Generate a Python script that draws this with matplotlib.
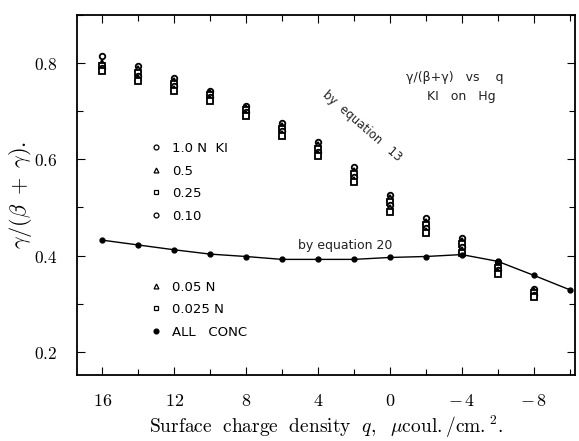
import numpy as np
import matplotlib
matplotlib.use('Agg')
import matplotlib.pyplot as plt
from matplotlib.lines import Line2D
from matplotlib.ticker import MultipleLocator, FuncFormatter

plt.rcParams['mathtext.fontset'] = 'cm'

# DATA
q = [16, 14, 12, 10, 8, 6, 4, 2, 0, -2, -4, -6, -8]
c_10 = [0.815, 0.793, 0.770, 0.742, 0.711, 0.676, 0.636, 0.583, 0.525, 0.477, 0.437, 0.386, 0.330]
c_05 = [0.800, 0.787, 0.763, 0.738, 0.706, 0.669, 0.629, 0.576, 0.519, 0.470, 0.430, 0.380, 0.326]
c_025 = [0.795, 0.780, 0.757, 0.733, 0.702, 0.663, 0.622, 0.570, 0.512, 0.463, 0.424, 0.375, 0.322]
c_010 = [0.790, 0.774, 0.752, 0.729, 0.698, 0.658, 0.616, 0.564, 0.505, 0.457, 0.418, 0.370, 0.318]
c_005 = [0.786, 0.768, 0.747, 0.725, 0.694, 0.653, 0.611, 0.558, 0.498, 0.451, 0.412, 0.365, 0.315]
c_0025 = [0.784, 0.763, 0.743, 0.721, 0.691, 0.649, 0.606, 0.553, 0.491, 0.446, 0.406, 0.361, 0.313]

q_eq20 = [16, 14, 12, 10, 8, 6, 4, 2, 0, -2, -4, -6, -8, -10]
y_eq20 = [0.432, 0.422, 0.412, 0.403, 0.398, 0.392, 0.392, 0.392, 0.396, 0.398, 0.402, 0.388, 0.359, 0.329]

labels_top = ['1.0 N  KI', '0.5', '0.25', '0.10']
labels_bot = ['0.05 N', '0.025 N', 'ALL   CONC']

#%%
fig = plt.figure(figsize=(5.79, 4.41), dpi=100)
ax = fig.add_axes([0.133, 0.150, 0.860, 0.816])

mk = dict(linestyle='none', markersize=4.0, markeredgewidth=1.3,
          markeredgecolor='black', markerfacecolor='white')
series = [(c_10, 'o'), (c_05, '^'), (c_025, 's'), (c_010, 'o'),
          (c_005, '^'), (c_0025, 's')]
for vals, m in series:
    ax.plot(q, vals, marker=m, **mk)

ax.plot(q_eq20, y_eq20, color='black', linewidth=1.0, marker='o',
        markersize=3.5)

sans = 'DejaVu Sans'
txt = dict(family=sans, color='#222222')
ax.text(1.55, 0.669, 'by  equation   13', rotation=-41, ha='center',
        va='center', rotation_mode='anchor', fontsize=8.5, **txt)
ax.text(2.5, 0.421, 'by equation 20', ha='center', va='center',
        fontsize=9, **txt)
ax.text(-3.6, 0.771, 'γ/(β+γ)   vs    q', ha='center', va='center',
        fontsize=9, **txt)
ax.text(-4.0, 0.730, 'KI   on   Hg', ha='center', va='center',
        fontsize=9, **txt)

# legends
def handle(m, filled=False):
    return Line2D([], [], linestyle='none', marker=m, markersize=3.5,
                  markeredgewidth=0.9, markeredgecolor='black',
                  markerfacecolor='black' if filled else 'white')

h_top = [handle('o'), handle('^'), handle('s'), handle('o')]
h_bot = [handle('^'), handle('s'), handle('o', True)]
leg1 = ax.legend(h_top, labels_top, loc='upper left',
                 bbox_to_anchor=(0.125, 0.68), frameon=False,
                 prop={'family': sans, 'size': 9.5}, labelspacing=0.72,
                 handlelength=0.8, handletextpad=0.8)
ax.add_artist(leg1)
ax.legend(h_bot, labels_bot, loc='upper left',
          bbox_to_anchor=(0.125, 0.295), frameon=False,
          prop={'family': sans, 'size': 9.5}, labelspacing=0.72,
          handlelength=0.8, handletextpad=0.8)

ax.set_xlim(17.4, -10.3)
ax.set_ylim(0.152, 0.90)

ax.xaxis.set_major_locator(MultipleLocator(4))
ax.xaxis.set_minor_locator(MultipleLocator(2))
ax.yaxis.set_major_locator(MultipleLocator(0.2))
ax.yaxis.set_minor_locator(MultipleLocator(0.1))

def xfmt(v, pos):
    v = int(round(v))
    return r'$-\,%d$' % (-v) if v < 0 else r'$%d$' % v

ax.xaxis.set_major_formatter(FuncFormatter(xfmt))
ax.yaxis.set_major_formatter(FuncFormatter(lambda v, p: r'$%.1f$' % v))

ax.tick_params(which='both', direction='in', top=True, right=True,
               width=0.8)
ax.tick_params(which='major', length=6)
ax.tick_params(which='minor', length=4)
ax.tick_params(axis='x', pad=12, labelsize=13)
ax.tick_params(axis='y', pad=14, labelsize=12.5)
for s in ax.spines.values():
    s.set_linewidth(1.3)

ax.set_xlabel(r'$\mathrm{Surface\ \ charge\ \ density\ \ }q\mathrm{,\ \ }\mu\mathrm{coul./cm.}^{2}\mathrm{.}$',
              fontsize=14, labelpad=3)
ax.set_ylabel(r'$\gamma/(\beta\ +\ \gamma).$', fontsize=16, labelpad=0)

plt.savefig('out.png', dpi=100)
